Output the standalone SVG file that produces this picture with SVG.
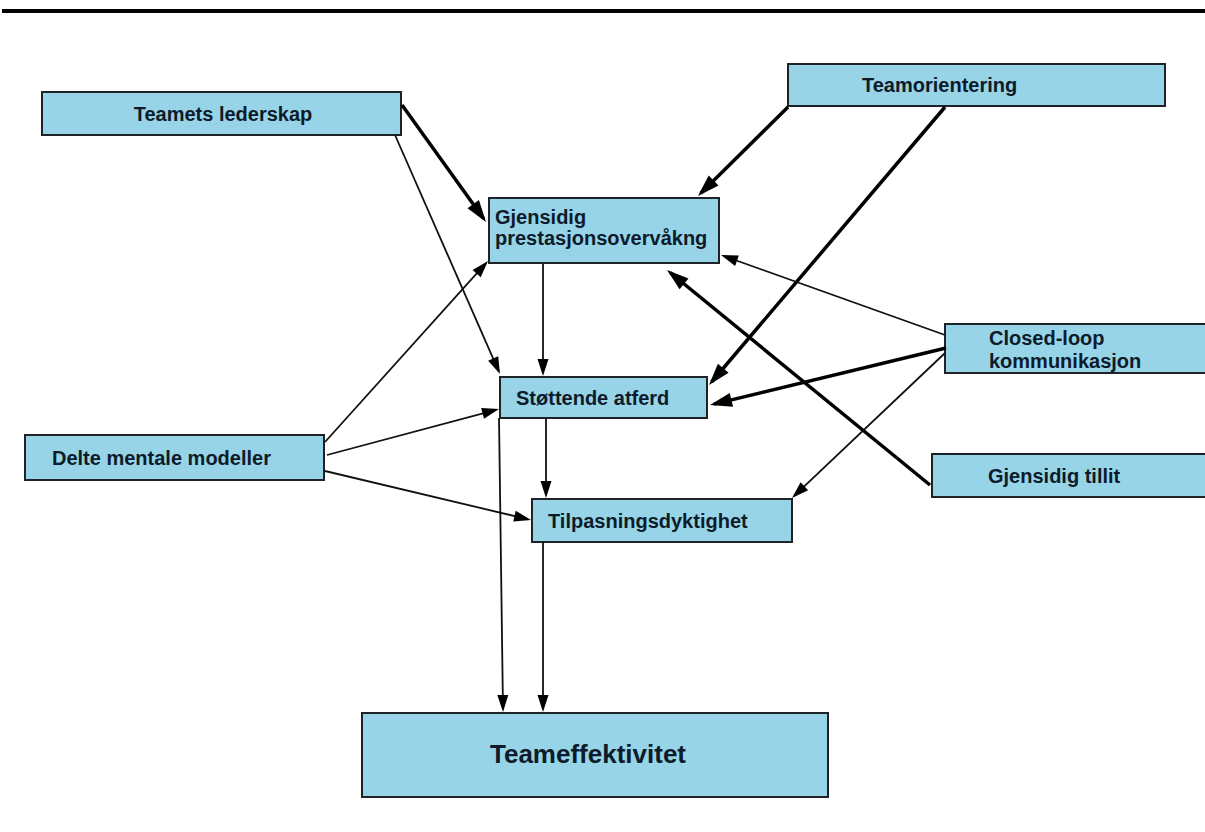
<svg xmlns="http://www.w3.org/2000/svg" width="1205" height="832" viewBox="0 0 1205 832">
  <style>
    .box { fill: #97d4e7; stroke: #1e2328; stroke-width: 2; }
    .lbl { font-family: "Liberation Sans", Arial, sans-serif; font-weight: bold; font-size: 20px; fill: #0d1b2a; }
    .big { font-size: 26px; }
    .thin { stroke: #111; stroke-width: 1.8; fill: none; marker-end: url(#ahThin); }
    .thick { stroke: #000; stroke-width: 3.5; fill: none; marker-end: url(#ahThick); }
  </style>
  <defs>
    <marker id="ahThin" markerUnits="userSpaceOnUse" markerWidth="17" markerHeight="11" refX="14" refY="5.5" orient="auto" overflow="visible">
      <path d="M0,0 L17,5.5 L0,11 z" fill="#000"/>
    </marker>
    <marker id="ahThick" markerUnits="userSpaceOnUse" markerWidth="22" markerHeight="14" refX="18" refY="7" orient="auto" overflow="visible">
      <path d="M0,0 L22,7 L0,14 z" fill="#000"/>
    </marker>
  </defs>
  <rect x="0" y="0" width="1205" height="832" fill="#ffffff"/>
  <rect x="2" y="9" width="1203" height="4" fill="#000"/>

  <g id="n-teamets-lederskap">
    <rect class="box" x="42" y="92" width="359" height="43"/>
    <text class="lbl" x="223" y="121" text-anchor="middle">Teamets lederskap</text>
  </g>
  <g id="n-teamorientering">
    <rect class="box" x="788" y="64" width="377" height="42"/>
    <text class="lbl" x="862" y="92">Teamorientering</text>
  </g>
  <g id="n-gjensidig-prestasjon">
    <rect class="box" x="489" y="198" width="230" height="65"/>
    <text class="lbl" x="495" y="224">Gjensidig</text>
    <text class="lbl" x="495" y="245">prestasjonsovervåkng</text>
  </g>
  <g id="n-closed-loop">
    <rect class="box" x="945" y="324" width="265" height="49"/>
    <text class="lbl" x="989" y="345">Closed-loop</text>
    <text class="lbl" x="989" y="368">kommunikasjon</text>
  </g>
  <g id="n-stottende-atferd">
    <rect class="box" x="500" y="377" width="207" height="41"/>
    <text class="lbl" x="516" y="405">Støttende atferd</text>
  </g>
  <g id="n-delte-mentale">
    <rect class="box" x="25" y="435" width="299" height="45"/>
    <text class="lbl" x="52" y="465">Delte mentale modeller</text>
  </g>
  <g id="n-gjensidig-tillit">
    <rect class="box" x="932" y="454" width="278" height="43"/>
    <text class="lbl" x="988" y="483">Gjensidig tillit</text>
  </g>
  <g id="n-tilpasning">
    <rect class="box" x="532" y="499" width="260" height="43"/>
    <text class="lbl" x="548" y="528">Tilpasningsdyktighet</text>
  </g>
  <g id="n-teameffektivitet">
    <rect class="box" x="362" y="713" width="466" height="84"/>
    <text class="lbl big" x="588" y="763" text-anchor="middle">Teameffektivitet</text>
  </g>

  <g id="connectors">
    <line class="thick" x1="402" y1="105" x2="483.7" y2="218.8"/>
    <line class="thin" x1="395" y1="135" x2="498.8" y2="371.3"/>
    <line class="thick" x1="788" y1="107" x2="700.8" y2="193.2"/>
    <line class="thick" x1="945" y1="107" x2="711.6" y2="382"/>
    <line class="thin" x1="945" y1="335" x2="723.8" y2="256"/>
    <line class="thick" x1="946" y1="348" x2="713.9" y2="404.1"/>
    <line class="thin" x1="945" y1="353" x2="794.2" y2="495.9"/>
    <line class="thick" x1="930" y1="485" x2="670.1" y2="272.5"/>
    <line class="thin" x1="543" y1="264" x2="543" y2="373"/>
    <line class="thin" x1="325" y1="442" x2="486" y2="263.2"/>
    <line class="thin" x1="327" y1="455" x2="496.1" y2="409.8"/>
    <line class="thin" x1="325" y1="471" x2="528.1" y2="519.3"/>
    <line class="thin" x1="546" y1="418" x2="546" y2="495"/>
    <line class="thin" x1="499" y1="418" x2="503" y2="709"/>
    <line class="thin" x1="543" y1="542" x2="543" y2="709"/>
  </g>
</svg>
